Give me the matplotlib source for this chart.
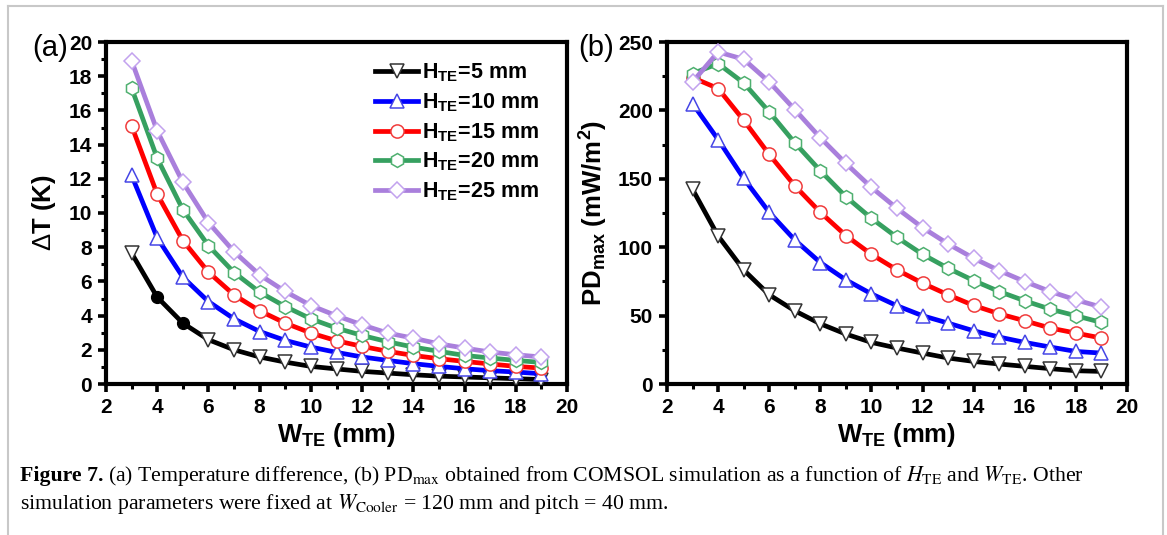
import matplotlib
matplotlib.use("Agg")
import matplotlib.pyplot as plt
from matplotlib.lines import Line2D
from matplotlib.ticker import MultipleLocator

plt.rcParams['font.family'] = ['Liberation Sans', 'DejaVu Sans']
plt.rcParams['mathtext.fontset'] = 'custom'
plt.rcParams['mathtext.rm'] = 'Liberation Sans'
plt.rcParams['mathtext.it'] = 'Liberation Sans:italic'
plt.rcParams['mathtext.bf'] = 'Liberation Sans:bold'

# ---------------- data ----------------
w_te = [3, 4, 5, 6, 7, 8, 9, 10, 11, 12, 13, 14, 15, 16, 17, 18, 19]
heights = ["5", "10", "15", "20", "25"]

dT_5 = [7.65, 5.08, 3.56, 2.59, 2.0, 1.58, 1.28, 1.03, 0.88, 0.74, 0.64, 0.54, 0.46, 0.41, 0.36, 0.31, 0.26]
dT_10 = [12.2, 8.55, 6.25, 4.82, 3.81, 3.07, 2.55, 2.16, 1.85, 1.58, 1.38, 1.19, 1.03, 0.89, 0.78, 0.70, 0.60]
dT_15 = [15.1, 11.1, 8.39, 6.54, 5.21, 4.28, 3.56, 2.98, 2.53, 2.20, 1.91, 1.67, 1.48, 1.32, 1.17, 1.03, 0.93]
dT_20 = [17.3, 13.2, 10.2, 8.09, 6.52, 5.37, 4.53, 3.81, 3.27, 2.84, 2.47, 2.16, 1.91, 1.67, 1.52, 1.38, 1.26]
dT_25 = [18.9, 14.8, 11.8, 9.44, 7.74, 6.38, 5.41, 4.59, 3.99, 3.46, 2.98, 2.68, 2.35, 2.10, 1.87, 1.71, 1.58]

pd_5 = [142.3, 108.2, 83.4, 65.2, 53.5, 44.0, 36.5, 30.4, 26.3, 22.6, 19.0, 16.5, 14.6, 12.9, 11.2, 9.7, 9.2]
pd_10 = [205.0, 178.7, 150.3, 125.5, 105.3, 88.8, 76.1, 65.9, 57.2, 49.9, 44.5, 38.9, 34.3, 30.4, 27.0, 23.8, 22.6]
pd_15 = [224.0, 216.0, 192.8, 167.8, 144.9, 125.5, 108.5, 94.8, 83.4, 73.7, 65.2, 57.4, 51.3, 46.2, 40.9, 37.2, 33.6]
pd_20 = [226.9, 234.2, 220.1, 198.9, 176.3, 155.9, 136.9, 121.1, 107.2, 94.8, 84.6, 75.6, 67.6, 60.8, 54.7, 49.9, 45.0]
pd_25 = [220.8, 242.7, 237.4, 220.8, 200.6, 180.0, 161.2, 143.7, 128.4, 114.3, 102.4, 91.9, 82.9, 74.9, 67.6, 61.5, 56.2]

dT_series = [dT_5, dT_10, dT_15, dT_20, dT_25]
pd_series = [pd_5, pd_10, pd_15, pd_20, pd_25]

x_ticks = [2, 4, 6, 8, 10, 12, 14, 16, 18, 20]
dT_ticks = [0, 2, 4, 6, 8, 10, 12, 14, 16, 18, 20]
pd_ticks = [0, 50, 100, 150, 200, 250]

# ---------------- styles ----------------
line_colors = ['#000000', '#0000ff', '#ff0000', '#36a060', '#a97fdc']
edge_colors = ['#333333', '#4646e6', '#f03c3c', '#4fb070', '#c2a2ee']
markers = ['v', '^', 'o', 'h', 'D']
msizes = [9.5, 9.5, 9.5, 10, 8.5]

W, H = 1167, 535
fig = plt.figure(figsize=(W / 100, H / 100), dpi=100)

ax_pos_y = (H - 384) / H
ax_h = 342 / H
ax1 = fig.add_axes([106 / W, ax_pos_y, 461 / W, ax_h])
ax2 = fig.add_axes([667 / W, ax_pos_y, 460 / W, ax_h])


def draw(ax, series, special=False):
    handles = []
    for i, ys in enumerate(series):
        label = r'H$_{\mathbf{TE}}$=' + heights[i] + ' mm'
        if special and i == 0:
            idx = [k for k in range(len(w_te)) if k not in (1, 2)]
            h, = ax.plot(w_te, ys, color=line_colors[i], lw=3.4, marker=markers[i],
                         ms=msizes[i], mfc='white', mec=edge_colors[i], mew=1.1,
                         markevery=idx, label=label, zorder=3)
            ax.plot([w_te[k] for k in (1, 2)], [ys[k] for k in (1, 2)], ls='none',
                    marker='o', ms=8.5, color='black', zorder=4)
        else:
            h, = ax.plot(w_te, ys, color=line_colors[i], lw=3.4, marker=markers[i],
                         ms=msizes[i], mfc='white', mec=edge_colors[i], mew=1.1,
                         label=label, zorder=3 + i * 0.1)
        handles.append(h)
    return handles


def style(ax, yticks, ylim, yminor):
    ax.set_xlim(2, 20)
    ax.set_ylim(*ylim)
    ax.set_xticks(x_ticks)
    ax.set_yticks(yticks)
    ax.xaxis.set_minor_locator(MultipleLocator(1))
    ax.yaxis.set_minor_locator(MultipleLocator(yminor))
    for sp in ax.spines.values():
        sp.set_linewidth(3.0)
    ax.tick_params(which='major', direction='out', length=6, width=2.6,
                   labelsize=15, pad=4)
    ax.tick_params(which='minor', direction='out', length=3.5, width=2.2)
    for lab in ax.get_xticklabels() + ax.get_yticklabels():
        lab.set_fontweight('bold')
    ax.set_xlabel(r'W$_{\mathbf{TE}}$ (mm)', fontsize=18.5, fontweight='bold', labelpad=3)


handles = draw(ax1, dT_series, special=True)
draw(ax2, pd_series)
style(ax1, dT_ticks, (0, 20), 1)
style(ax2, pd_ticks, (0, 250), 25)

ax1.set_ylabel(r'$\Delta$T (K)', fontsize=18.5, fontweight='bold', labelpad=8)
ax2.set_ylabel(r'PD$_{\mathbf{max}}$ (mW/m$^{\mathbf{2}}$)', fontsize=18.5,
               fontweight='bold', labelpad=6)

leg = ax1.legend(handles=handles, loc='upper left', bbox_to_anchor=(0.575, 0.955),
                 frameon=False, prop={'weight': 'bold', 'size': 15.5},
                 handlelength=2.0, handletextpad=0.15, labelspacing=0.33,
                 borderaxespad=0.0, borderpad=0.2)

fig.text(50 / W, 1 - 48 / H, '(a)', fontsize=21, ha='center', va='center')
fig.text(596 / W, 1 - 48 / H, '(b)', fontsize=21, ha='center', va='center')

# caption
cap_kw = dict(family='Liberation Serif', fontsize=15.7, math_fontfamily='stix')
y1 = 1 - 481 / H
y2 = 1 - 509 / H
t0 = fig.text(20 / W, y1, 'Figure 7.', fontweight='bold', va='baseline', **cap_kw)
fig.canvas.draw()
r = fig.canvas.get_renderer()
x0 = t0.get_window_extent(r).x1 + 4
fig.text(x0 / W, y1,
         r'(a) Temperature difference, (b) PD$_{\mathrm{max}}$ obtained from COMSOL '
         r'simulation as a function of $\mathit{H}_{\mathrm{TE}}$ and $\mathit{W}_{\mathrm{TE}}$. Other',
         va='baseline', **cap_kw)
fig.text(20 / W, y2,
         r'simulation parameters were fixed at $\mathit{W}_{\mathrm{Cooler}}$ = 120 mm and pitch = 40 mm.',
         va='baseline', **cap_kw)

# light frame
fc = '#c8c8c8'
fig.add_artist(Line2D([8 / W, 1163 / W], [1 - 6 / H, 1 - 6 / H], color=fc, lw=1.5))
fig.add_artist(Line2D([8 / W, 8 / W], [0, 1 - 6 / H], color=fc, lw=1.5))
fig.add_artist(Line2D([1163 / W, 1163 / W], [0, 1 - 6 / H], color=fc, lw=1.5))

fig.savefig('out.png', dpi=100)
